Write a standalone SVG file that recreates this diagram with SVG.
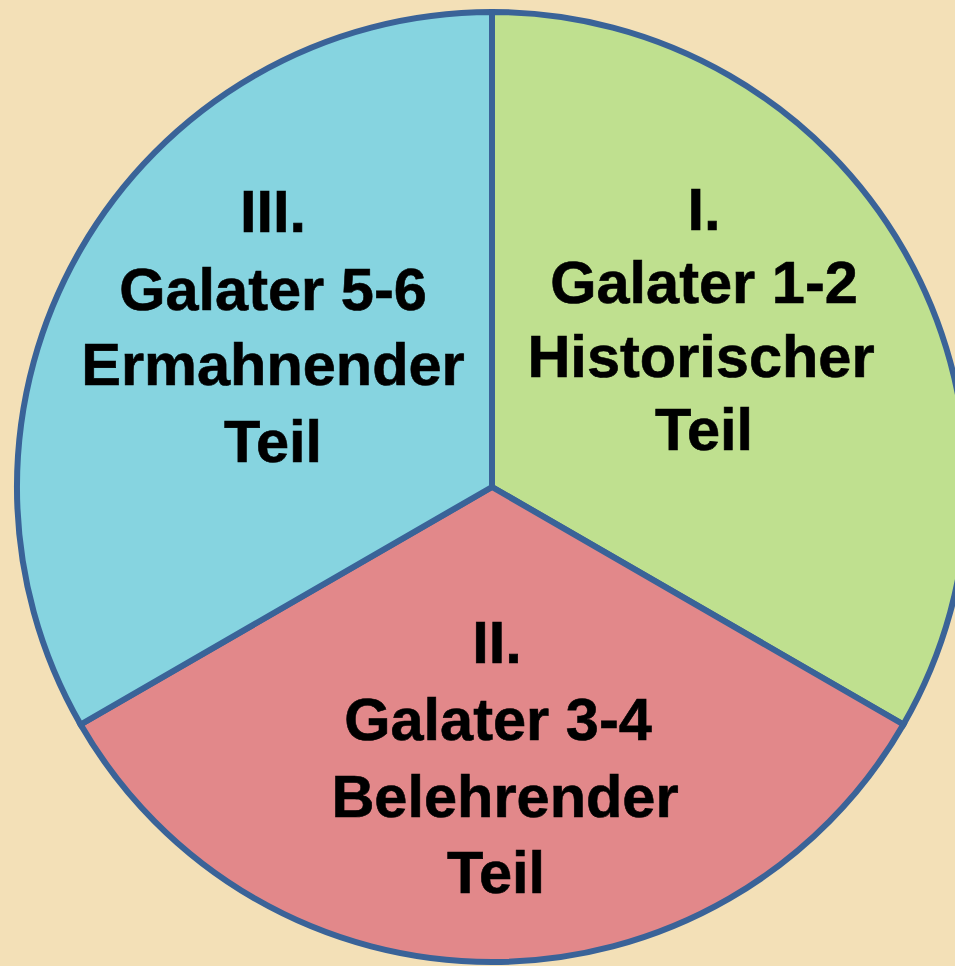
<svg xmlns="http://www.w3.org/2000/svg" width="955" height="966" viewBox="0 0 955 966">
<style>
.seg{stroke:#3a6398;stroke-width:6;stroke-linejoin:miter}
.t{font-family:"Liberation Sans",Arial,sans-serif;font-weight:bold;font-size:59.5px;fill:#000;text-anchor:middle;stroke:#000;stroke-width:0.6}
</style>
<rect width="955" height="966" fill="#f3e0b7"/>
<g id="sector-I">
<path class="seg" d="M492,487 L492,12 A475,475 0 0 1 903.4,724.5 Z" fill="#bfe08f"/>
<text class="t" x="704" y="230">I.</text>
<text class="t" x="704" y="303">Galater 1-2</text>
<text class="t" x="701" y="377">Historischer</text>
<text class="t" x="704" y="450">Teil</text>
</g>
<g id="sector-II">
<path class="seg" d="M492,487 L903.4,724.5 A475,475 0 0 1 80.6,724.5 Z" fill="#e2888a"/>
<text class="t" x="497" y="663">II.</text>
<text class="t" x="498" y="740">Galater 3-4</text>
<text class="t" x="505" y="817">Belehrender</text>
<text class="t" x="496" y="893">Teil</text>
</g>
<g id="sector-III">
<path class="seg" d="M492,487 L80.6,724.5 A475,475 0 0 1 492,12 Z" fill="#86d4e0"/>
<text class="t" x="273" y="232">III.</text>
<text class="t" x="273" y="310">Galater 5-6</text>
<text class="t" x="273" y="385">Ermahnender</text>
<text class="t" x="273" y="462">Teil</text>
</g>
<g id="connectors"></g>
</svg>
